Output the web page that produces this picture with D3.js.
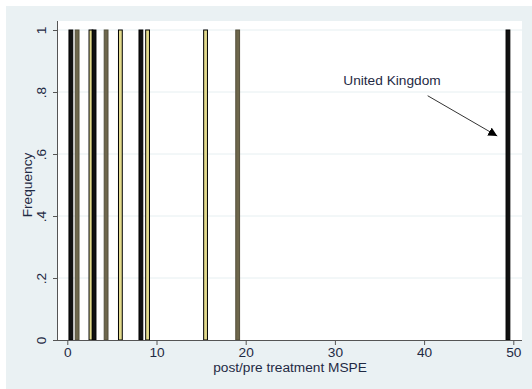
<!DOCTYPE html>
<html lang="en">
<head>
    <meta charset="UTF-8">
    <title>post/pre treatment MSPE</title>
    <script src="https://d3js.org/d3.v7.min.js"></script>
    <style>
        body { margin: 0; background: #fff; }
        text { font-family: Arial, "Liberation Sans", sans-serif; }
    </style>
</head>
<body>
<svg width="532" height="389"></svg>

<script>

    // ratio of post/pre treatment MSPE, one spike per unit
    var ratios = [0.4, 1.1, 2.65, 3.0, 4.35, 5.95, 8.25, 9.0, 15.5, 19.1, 49.4]
    var freqs = [1, 1, 1, 1, 1, 1, 1, 1, 1, 1, 1]
    var barKind = ['black', 'olive', 'yellow', 'black', 'olive', 'yellow', 'black', 'yellow', 'yellow', 'olive', 'black']
    var xTicks = [0, 10, 20, 30, 40, 50]
    var yTicks = [0, 0.2, 0.4, 0.6, 0.8, 1]
    var yTickLabels = ['0', '.2', '.4', '.6', '.8', '1']
    var note = { label: 'United Kingdom', x: 36.4, y: 0.823, fromX: 40.4, fromY: 0.788, toX: 48.2, toY: 0.658 }

    var fills = { black: '#111', olive: '#6e674c', yellow: '#e2da8c' }
    var fontSize = 13.7

    var svg = d3.select('svg')

    // graph region + plot region
    svg.append('rect').attr('x', 6).attr('y', 6).attr('width', 526).attr('height', 383).attr('fill', '#eaf1f3')
    svg.append('rect').attr('x', 58).attr('y', 21).attr('width', 464).attr('height', 319).attr('fill', '#fff')

    var x = d3.scaleLinear().domain([0, 50]).range([67.3, 513.3])
    var y = d3.scaleLinear().domain([0, 1]).range([340, 30])

    // gridlines
    svg.append('g')
        .selectAll('line')
        .data(yTicks.slice(1))
        .join('line')
        .attr('x1', 58).attr('x2', 522)
        .attr('y1', d => y(d)).attr('y2', d => y(d))
        .attr('stroke', '#e6eff1')
        .attr('stroke-width', 1)

    // bars
    svg.append('g')
        .selectAll('rect')
        .data(ratios)
        .join('rect')
        .attr('x', d => x(d) - 1.9)
        .attr('y', (d, i) => y(freqs[i]))
        .attr('width', 3.8)
        .attr('height', (d, i) => y(0) - y(freqs[i]))
        .attr('fill', (d, i) => fills[barKind[i]])
        .attr('stroke', (d, i) => barKind[i] == 'olive' ? '#55503c' : '#000')
        .attr('stroke-width', 1)

    // axes
    var xAxis = svg.append('g')
        .attr('transform', `translate(0, 340)`)
        .call(d3.axisBottom(x).tickValues(xTicks).tickSize(5).tickPadding(2).tickSizeOuter(0))
    xAxis.select('.domain').attr('d', 'M58,0.5H522').attr('stroke', '#555')
    xAxis.selectAll('.tick line').attr('stroke', '#555')
    xAxis.selectAll('.tick text').attr('font-size', fontSize).attr('fill', '#1f2a44').attr('font-family', 'Arial, "Liberation Sans", sans-serif')

    var yAxis = svg.append('g')
        .attr('transform', `translate(58, 0)`)
        .call(d3.axisLeft(y).tickValues(yTicks).tickSize(5).tickSizeOuter(0).tickFormat(d => yTickLabels[yTicks.indexOf(d)]))
    yAxis.select('.domain').attr('d', 'M-0.5,340V21').attr('stroke', '#555')
    yAxis.selectAll('.tick line').attr('stroke', '#555')
    yAxis.selectAll('.tick text')
        .attr('font-size', fontSize)
        .attr('fill', '#1f2a44')
        .attr('font-family', 'Arial, "Liberation Sans", sans-serif')
        .attr('x', null).attr('dy', null)
        .attr('text-anchor', 'middle')
        .attr('transform', 'translate(-12, 0) rotate(-90)')

    // axis titles
    svg.append('text')
        .attr('text-anchor', 'middle')
        .attr('x', 290).attr('y', 372)
        .attr('font-size', fontSize)
        .attr('fill', '#1f2a44')
        .text('post/pre treatment MSPE')

    svg.append('text')
        .attr('text-anchor', 'middle')
        .attr('transform', 'translate(32, 185) rotate(-90)')
        .attr('font-size', fontSize)
        .attr('fill', '#1f2a44')
        .text('Frequency')

    // annotation
    svg.append('defs').append('marker')
        .attr('id', 'head')
        .attr('viewBox', '0 0 10 10')
        .attr('refX', 10).attr('refY', 5)
        .attr('markerWidth', 9).attr('markerHeight', 9)
        .attr('markerUnits', 'userSpaceOnUse')
        .attr('orient', 'auto')
        .append('path')
        .attr('d', 'M0,0L10,5L0,10Z')
        .attr('fill', '#000')

    svg.append('line')
        .attr('x1', x(note.fromX)).attr('y1', y(note.fromY))
        .attr('x2', x(note.toX)).attr('y2', y(note.toY))
        .attr('stroke', '#333')
        .attr('stroke-width', 1)
        .attr('marker-end', 'url(#head)')

    svg.append('text')
        .attr('text-anchor', 'middle')
        .attr('x', x(note.x)).attr('y', y(note.y))
        .attr('font-size', fontSize)
        .attr('fill', '#1f2a44')
        .text(note.label)

</script>
</body>
</html>
